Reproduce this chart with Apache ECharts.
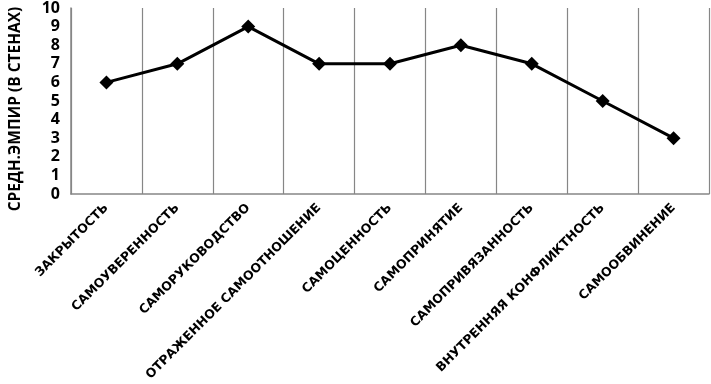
<!DOCTYPE html>
<html><head><meta charset="utf-8">
<script src="https://cdn.jsdelivr.net/npm/echarts@6/dist/echarts.min.js"></script>
<style>html,body{margin:0;padding:0;background:#fff}#c{width:711px;height:384px}</style>
</head><body><div id="c"></div>
<script>
const categories = ["ЗАКРЫТОСТЬ","САМОУВЕРЕННОСТЬ","САМОРУКОВОДСТВО","ОТРАЖЕННОЕ САМООТНОШЕНИЕ","САМОЦЕННОСТЬ","САМОПРИНЯТИЕ","САМОПРИВЯЗАННОСТЬ","ВНУТРЕННЯЯ КОНФЛИКТНОСТЬ","САМООБВИНЕНИЕ"];
const values = [6,7,9,7,7,8,7,5,3];
const yAxisTitle = "СРЕДН.ЭМПИР (В СТЕНАХ)";
const chart = echarts.init(document.getElementById('c'));
chart.setOption({
  animation:false,
  grid:{left:62,right:2,top:7,bottom:190,containLabel:false},
  xAxis:{type:'category',data:categories,boundaryGap:true,
    axisLine:{lineStyle:{color:'#868686',width:1.5}},
    axisTick:{show:false},
    splitLine:{show:true,lineStyle:{color:'#868686',width:1.2}},
    axisLabel:{rotate:45,interval:0,margin:12,color:'#000',fontFamily:'DejaVu Sans',fontWeight:'bold',fontSize:12.5}
  },
  yAxis:{type:'value',min:0,max:10,interval:1,
    name:yAxisTitle,nameLocation:'middle',nameGap:47,
    nameTextStyle:{color:'#000',fontFamily:'Open Sans',fontWeight:'bold',fontSize:15.5,padding:[0,16,0,0]},
    axisLine:{show:true,lineStyle:{color:'#868686',width:1.5}},
    axisTick:{show:false},splitLine:{show:false},
    axisLabel:{color:'#000',fontFamily:'Open Sans',fontWeight:'bold',fontSize:16,margin:11}
  },
  series:[{type:'line',data:values,symbol:'diamond',symbolSize:14,
    lineStyle:{color:'#000',width:3},itemStyle:{color:'#000'}}]
});
</script></body></html>
